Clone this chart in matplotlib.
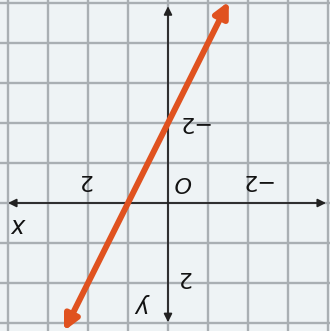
import matplotlib
matplotlib.use("Agg")
import matplotlib.pyplot as plt

# grid range (the picture is shown upside down)
grid_x = [-4, -3, -2, -1, 0, 1, 2, 3, 4]
grid_y = [-5, -4, -3, -2, -1, 0, 1, 2, 3]

# line y = 2x - 2, endpoints of the drawn segment
line_x = [2.6, -1.52]
line_y = [3.2, -5.04]

# tick labels: (text, x, y)
labels = [("2", 2.08, -0.58), ("\u22122", -2.18, -0.58),
          ("\u22122", -0.6, -2.03), ("2", -0.38, 1.85)]

def main():
    fig = plt.figure(figsize=(3.30, 3.31), dpi=100)
    ax = fig.add_axes([0, 0, 1, 1])
    ax.set_xlim(4.2, -4.05)
    ax.set_ylim(3.2, -5.075)
    ax.axis("off")
    fig.patch.set_facecolor("#eef3f5")

    for gx in grid_x:
        ax.axvline(gx, color="#a9afb3", lw=1.7, zorder=1)
    for gy in grid_y:
        ax.axhline(gy, color="#a9afb3", lw=1.7, zorder=1)

    # axes with arrows
    ax.annotate("", xy=(4.0, 0), xytext=(-3.95, 0),
                arrowprops=dict(arrowstyle="<|-|>", color="#222222", lw=1.3,
                                mutation_scale=12, shrinkA=0, shrinkB=0), zorder=3)
    ax.annotate("", xy=(0, -4.92), xytext=(0, 2.98),
                arrowprops=dict(arrowstyle="<|-|>", color="#222222", lw=1.3,
                                mutation_scale=12, shrinkA=0, shrinkB=0), zorder=3)

    # red line
    ax.annotate("", xy=(line_x[0], line_y[0]), xytext=(line_x[1], line_y[1]),
                arrowprops=dict(arrowstyle="<|-|>", color="#e0521f", lw=4.3,
                                mutation_scale=22, shrinkA=0, shrinkB=0), zorder=4)

    for txt, lx, ly in labels:
        ax.text(lx, ly, txt, rotation=180, fontsize=16, ha="center", va="center",
                color="#111111", zorder=5)
    ax.text(-0.35, -0.52, "O", rotation=180, fontsize=16, style="italic",
            ha="center", va="center", color="#111111", zorder=5)
    ax.text(3.7, 0.55, "x", rotation=180, fontsize=17, style="italic",
            ha="center", va="center", color="#111111", zorder=5)
    ax.text(0.62, 2.55, "y", rotation=180, fontsize=17, style="italic",
            ha="center", va="center", color="#111111", zorder=5)

    fig.savefig("out.png", dpi=100, facecolor=fig.get_facecolor())

if __name__ == "__main__":
    main()
